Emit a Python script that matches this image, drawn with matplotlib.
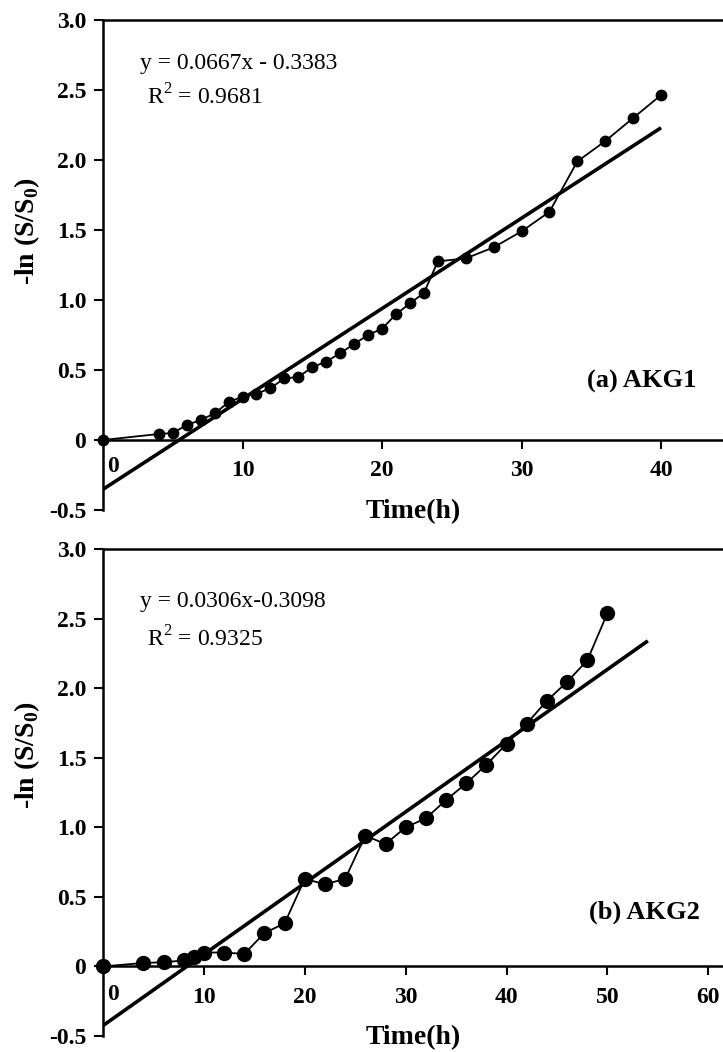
import matplotlib
matplotlib.use('Agg')
import matplotlib.pyplot as plt

# (a) AKG1
time_a = [0, 4, 5, 6, 7, 8, 9, 10, 11, 12, 13, 14, 15, 16, 17, 18, 19, 20,
          21, 22, 23, 24, 26, 28, 30, 32, 34, 36, 38, 40]
lnS_a = [0, 0.043, 0.05, 0.107, 0.143, 0.19, 0.27, 0.31, 0.33, 0.37, 0.44, 0.45,
         0.52, 0.56, 0.62, 0.686, 0.75, 0.795, 0.898, 0.976, 1.05, 1.276, 1.297,
         1.376, 1.49, 1.63, 1.99, 2.135, 2.30, 2.464]
fit_t_a = [0, 40]
fit_v_a = [-0.352, 2.23]
eq_a = 'y = 0.0667x - 0.3383'
r2_a = 'R$^2$ = 0.9681'
tag_a = '(a) AKG1'
xticks_a = [10, 20, 30, 40]

# (b) AKG2
time_b = [0, 4, 6, 8, 9, 10, 12, 14, 16, 18, 20, 22, 24, 26, 28, 30, 32, 34,
          36, 38, 40, 42, 44, 46, 48, 50]
lnS_b = [0, 0.025, 0.03, 0.043, 0.07, 0.1, 0.1, 0.09, 0.24, 0.31, 0.63, 0.59,
         0.63, 0.94, 0.88, 1.0, 1.065, 1.196, 1.316, 1.45, 1.60, 1.746, 1.91,
         2.045, 2.20, 2.54]
fit_t_b = [0, 54]
fit_v_b = [-0.425, 2.34]
eq_b = 'y = 0.0306x-0.3098'
r2_b = 'R$^2$ = 0.9325'
tag_b = '(b) AKG2'
xticks_b = [10, 20, 30, 40, 50, 60]

yticks = [-0.5, 0, 0.5, 1.0, 1.5, 2.0, 2.5, 3.0]
ytick_labels = ['-0.5', '0', '0.5', '1.0', '1.5', '2.0', '2.5', '3.0']


def init_plt_env():
    plt.rcParams['font.family'] = ['Liberation Serif', 'DejaVu Serif']
    plt.rcParams['mathtext.fontset'] = 'custom'
    plt.rcParams['mathtext.rm'] = 'Liberation Serif'
    plt.rcParams['mathtext.bf'] = 'Liberation Serif:bold'
    plt.rcParams['axes.unicode_minus'] = False


def draw_panel(ax, t, v, fit_t, fit_v, xmax, xticks, eq, r2, tag, ms,
               eq_y, r2_y, tag_xy, ylab_y, zero_dy):
    ax.plot(fit_t, fit_v, c='k', lw=2.6, zorder=3, solid_capstyle='butt')
    ax.plot(t, v, c='k', lw=1.3, marker='o', ms=ms, zorder=4, clip_on=False)

    ax.set_xlim(0, xmax)
    ax.set_ylim(-0.5, 3.0)
    ax.spines['right'].set_visible(False)
    ax.spines['bottom'].set_position(('data', 0))
    for s in ['left', 'bottom', 'top']:
        ax.spines[s].set_linewidth(1.8)

    ax.set_xticks(xticks)
    ax.set_xticklabels([str(x) for x in xticks], fontsize=17, fontweight='bold')
    ax.set_yticks(yticks)
    ax.set_yticklabels(ytick_labels, fontsize=17, fontweight='bold')
    ax.tick_params(axis='both', direction='out', length=6.5, width=1.5)
    ax.tick_params(axis='x', pad=8)
    ax.tick_params(axis='y', pad=5.5)
    ax.tick_params(top=False, right=False)

    ax.annotate('0', xy=(0, 0), xytext=(7, zero_dy), textcoords='offset points',
                ha='center', va='center', fontsize=17, fontweight='bold')

    ax.set_xlabel('Time(h)', fontsize=20, fontweight='bold', va='center')
    ax.xaxis.set_label_coords(0.5, -0.004)
    ax.set_ylabel(r'-ln (S/S$_\mathbf{0}$)', fontsize=20, fontweight='bold', va='center')
    ax.yaxis.set_label_coords(-0.122, ylab_y)

    ax.text(0.06, eq_y, eq, transform=ax.transAxes, fontsize=17, ha='left', va='center')
    ax.text(0.071, r2_y, r2, transform=ax.transAxes, fontsize=17, ha='left', va='center')
    ax.text(tag_xy[0], tag_xy[1], tag, transform=ax.transAxes, fontsize=19,
            fontweight='bold', ha='center', va='center')


def main():
    init_plt_env()
    fig = plt.figure(figsize=(7.23, 10.52), dpi=100)
    ax1 = fig.add_axes([0.1425, 0.5152, 0.8575, 0.4658])
    ax2 = fig.add_axes([0.1425, 0.0152, 0.8575, 0.4629])

    draw_panel(ax1, time_a, lnS_a, fit_t_a, fit_v_a, 44.44, xticks_a, eq_a, r2_a,
               tag_a, 7.5, 0.912, 0.843, (0.869, 0.263), 0.57, -19)
    draw_panel(ax2, time_b, lnS_b, fit_t_b, fit_v_b, 61.45, xticks_b, eq_b, r2_b,
               tag_b, 10, 0.893, 0.815, (0.874, 0.255), 0.577, -20)

    fig.savefig('out.png', dpi=100)


if __name__ == '__main__':
    main()
